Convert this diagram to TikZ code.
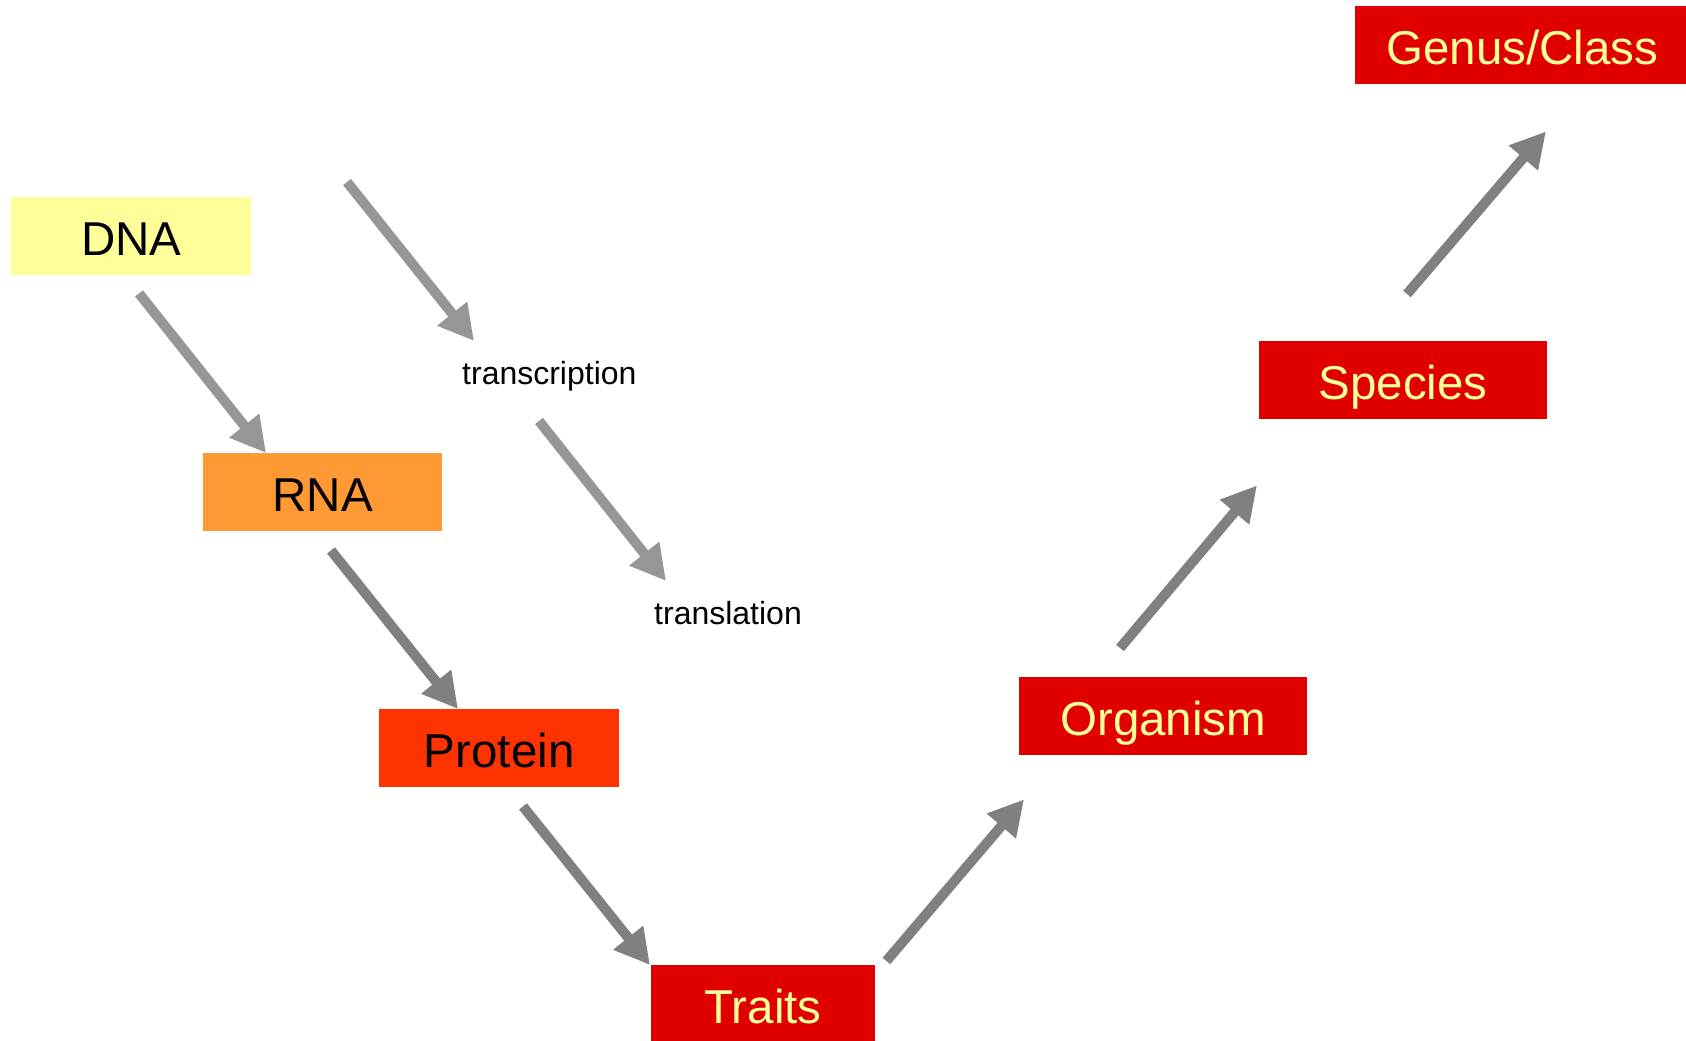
\documentclass[tikz,border=0pt]{standalone}
\usepackage{fontspec}
\setmainfont{Liberation Sans}
\usetikzlibrary{arrows.meta,calc}
\definecolor{dnaY}{HTML}{FFFF99}
\definecolor{rnaO}{HTML}{FF9933}
\definecolor{protR}{HTML}{FF3300}
\definecolor{boxR}{HTML}{E00000}
\definecolor{txtY}{HTML}{FFFF99}
\definecolor{arrL}{HTML}{969696}
\definecolor{arrD}{HTML}{808080}
\begin{document}
\begin{tikzpicture}[x=1pt,y=-1pt,
  box/.style={anchor=north west,minimum height=78pt,inner sep=0pt,
    font=\fontsize{47.5}{56}\selectfont,text height=38pt,text depth=0pt},
  redbox/.style={box,fill=boxR,text=txtY},
  lbl/.style={anchor=base west,inner sep=0pt,font=\fontsize{32}{38}\selectfont},
  arr/.style={line width=10pt,-{Triangle[length=35pt,width=36pt]}},
  arrlight/.style={arr,draw=arrL},
  arrdark/.style={arr,draw=arrD}]
\useasboundingbox (0,0) rectangle (1686,1041);
% boxes
\node[box,fill=dnaY,minimum width=240pt] (DNA) at (11,197) {DNA};
\node[box,fill=rnaO,minimum width=239pt] (RNA) at (203,453) {RNA};
\node[box,fill=protR,minimum width=240pt] (Protein) at (379,709) {Protein};
\node[redbox,minimum width=224pt] (Traits) at (651,965) {Traits};
\node[redbox,minimum width=288pt] (Organism) at (1019,677) {Organism};
\node[redbox,minimum width=288pt] (Species) at (1259,341) {Species};
\node[redbox,minimum width=334pt] (Genus) at (1355,6) {Genus/Class};
% labels
\node[lbl] (transcription) at (462,384) {transcription};
\node[lbl] (translation) at (654,624) {translation};
\coordinate (trTail) at (347,182);
\coordinate (tlTail) at (539,421);
% connectors
\draw[arrlight] ($(DNA.south west)+(128,18)$) -- ($(RNA.north west)+(63,0)$);
\draw[arrlight] (trTail) -- ($(transcription.base west)+(12,-43)$);
\draw[arrdark] ($(RNA.south west)+(128,19)$) -- ($(Protein.north west)+(79,0)$);
\draw[arrlight] (tlTail) -- ($(translation.base west)+(12,-43)$);
\draw[arrdark] ($(Protein.south west)+(144,19)$) -- ($(Traits.north west)+(-1,0)$);
\draw[arrdark] ($(Traits.north east)+(11,-4)$) -- ($(Organism.south west)+(5,44)$);
\draw[arrdark] ($(Organism.north west)+(101,-29)$) -- ($(Species.south west)+(-2,66)$);
\draw[arrdark] ($(Species.north west)+(148,-47)$) -- ($(Genus.south west)+(191,47)$);
\end{tikzpicture}
\end{document}
